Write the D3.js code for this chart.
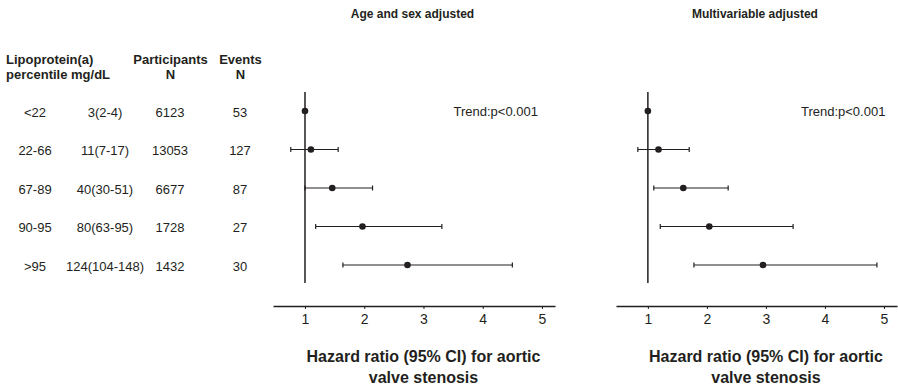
<!DOCTYPE html>
<html>
<head>
<meta charset="utf-8">
<script src="https://cdn.jsdelivr.net/npm/d3@7"></script>
<style>
  body { margin: 0; background: #fff; }
  svg text { font-family: "Liberation Sans", Arial, Helvetica, sans-serif; fill: #231f20; }
</style>
</head>
<body>
<svg id="chart" width="898" height="386"></svg>
<script>
// --- data ---
const percentiles = ["<22", "22-66", "67-89", "90-95", ">95"];
const lpaLevels = ["3(2-4)", "11(7-17)", "40(30-51)", "80(63-95)", "124(104-148)"];
const participants = [6123, 13053, 6677, 1728, 1432];
const events = [53, 127, 87, 27, 30];

const ageSexHR = [1, 1.10, 1.46, 1.97, 2.73];
const ageSexLo = [null, 0.76, 1.00, 1.18, 1.64];
const ageSexHi = [null, 1.56, 2.14, 3.31, 4.50];

const multiHR = [1, 1.18, 1.60, 2.04, 2.95];
const multiLo = [null, 0.83, 1.10, 1.21, 1.78];
const multiHi = [null, 1.70, 2.36, 3.46, 4.88];

const tickValues = [1, 2, 3, 4, 5];
const panelTitles = ["Age and sex adjusted", "Multivariable adjusted"];
const trendLabel = "Trend:p<0.001";
const axisTitle = ["Hazard ratio (95% CI) for aortic", "valve stenosis"];

const svg = d3.select("#chart");
const ink = "#231f20";

// rows
const y = d3.scalePoint()
    .domain(d3.range(percentiles.length))
    .range([111, 265]);

// --- table on the left ---
const table = svg.append("g");
const headers = [
    { lines: ["Lipoprotein(a)", "percentile mg/dL"], x: 6, anchor: "start" },
    { lines: ["Participants", "N"], x: 170.5, anchor: "middle" },
    { lines: ["Events", "N"], x: 240.5, anchor: "middle" }
];
headers.forEach(h => {
    h.lines.forEach((t, i) => {
        table.append("text")
            .attr("x", h.x).attr("y", 59 + i * 15)
            .attr("text-anchor", h.anchor)
            .attr("dominant-baseline", "central")
            .attr("font-size", 13).attr("font-weight", "bold")
            .text(t);
    });
});

const columns = [
    { values: percentiles, x: 35 },
    { values: lpaLevels, x: 105 },
    { values: participants, x: 170 },
    { values: events, x: 240 }
];
columns.forEach(col => {
    table.selectAll(null)
        .data(col.values)
        .enter()
        .append("text")
        .attr("x", col.x)
        .attr("y", (d, i) => y(i) + 1)
        .attr("text-anchor", "middle")
        .attr("dominant-baseline", "central")
        .attr("font-size", 13)
        .text(d => d);
});

// --- forest panels ---
const panels = [
    { title: panelTitles[0], hr: ageSexHR, lo: ageSexLo, hi: ageSexHi, range: [273, 555], trendDx: 30 },
    { title: panelTitles[1], hr: multiHR, lo: multiLo, hi: multiHi, range: [616, 897], trendDx: 35 }
];

const axisY = 306;

panels.forEach(p => {
    const x = d3.scaleLinear().domain([0.46, 5.22]).range(p.range);
    const g = svg.append("g");

    // panel title
    g.append("text")
        .attr("x", x(3) - 11).attr("y", 14)
        .attr("text-anchor", "middle")
        .attr("dominant-baseline", "central")
        .attr("font-size", 12).attr("font-weight", "bold")
        .text(p.title);

    // reference line at HR = 1
    g.append("line")
        .attr("x1", x(1)).attr("x2", x(1))
        .attr("y1", y(0) - 19).attr("y2", y(percentiles.length - 1) + 18)
        .attr("stroke", ink).attr("stroke-width", 1.5);

    const rows = p.hr.map((v, i) => ({ hr: v, lo: p.lo[i], hi: p.hi[i], i }));
    const withCI = rows.filter(d => d.lo != null);

    // confidence intervals
    g.selectAll(".ci")
        .data(withCI)
        .enter()
        .append("line")
        .attr("x1", d => x(d.lo)).attr("x2", d => x(d.hi))
        .attr("y1", d => y(d.i)).attr("y2", d => y(d.i))
        .attr("stroke", ink).attr("stroke-width", 1.2);

    ["lo", "hi"].forEach(k => {
        g.selectAll(".cap-" + k)
            .data(withCI)
            .enter()
            .append("line")
            .attr("x1", d => x(d[k])).attr("x2", d => x(d[k]))
            .attr("y1", d => y(d.i) - 2.5).attr("y2", d => y(d.i) + 2.5)
            .attr("stroke", ink).attr("stroke-width", 1.2);
    });

    // point estimates
    g.selectAll(".pt")
        .data(rows)
        .enter()
        .append("circle")
        .attr("cx", d => x(d.hr)).attr("cy", d => y(d.i))
        .attr("r", 3.3)
        .attr("fill", ink);

    // trend text
    g.append("text")
        .attr("x", x(3) + p.trendDx).attr("y", y(0))
        .attr("dominant-baseline", "central")
        .attr("font-size", 13)
        .text(trendLabel);

    // x axis
    const axis = g.append("g")
        .attr("transform", `translate(0,${axisY})`)
        .call(d3.axisBottom(x)
            .tickValues(tickValues)
            .tickFormat(d3.format("d"))
            .tickSize(3).tickPadding(5).tickSizeOuter(0));
    axis.select(".domain").attr("stroke", ink).attr("stroke-width", 1.3);
    axis.selectAll(".tick line").attr("stroke", ink);
    axis.selectAll(".tick text")
        .attr("font-size", 14)
        .attr("font-family", "Liberation Sans, Arial, sans-serif")
        .attr("fill", ink);

    // axis title
    axisTitle.forEach((t, i) => {
        g.append("text")
            .attr("x", x(3)).attr("y", 356 + i * 21)
            .attr("text-anchor", "middle")
            .attr("dominant-baseline", "central")
            .attr("font-size", 16).attr("font-weight", "bold")
            .text(t);
    });
});
</script>
</body>
</html>
